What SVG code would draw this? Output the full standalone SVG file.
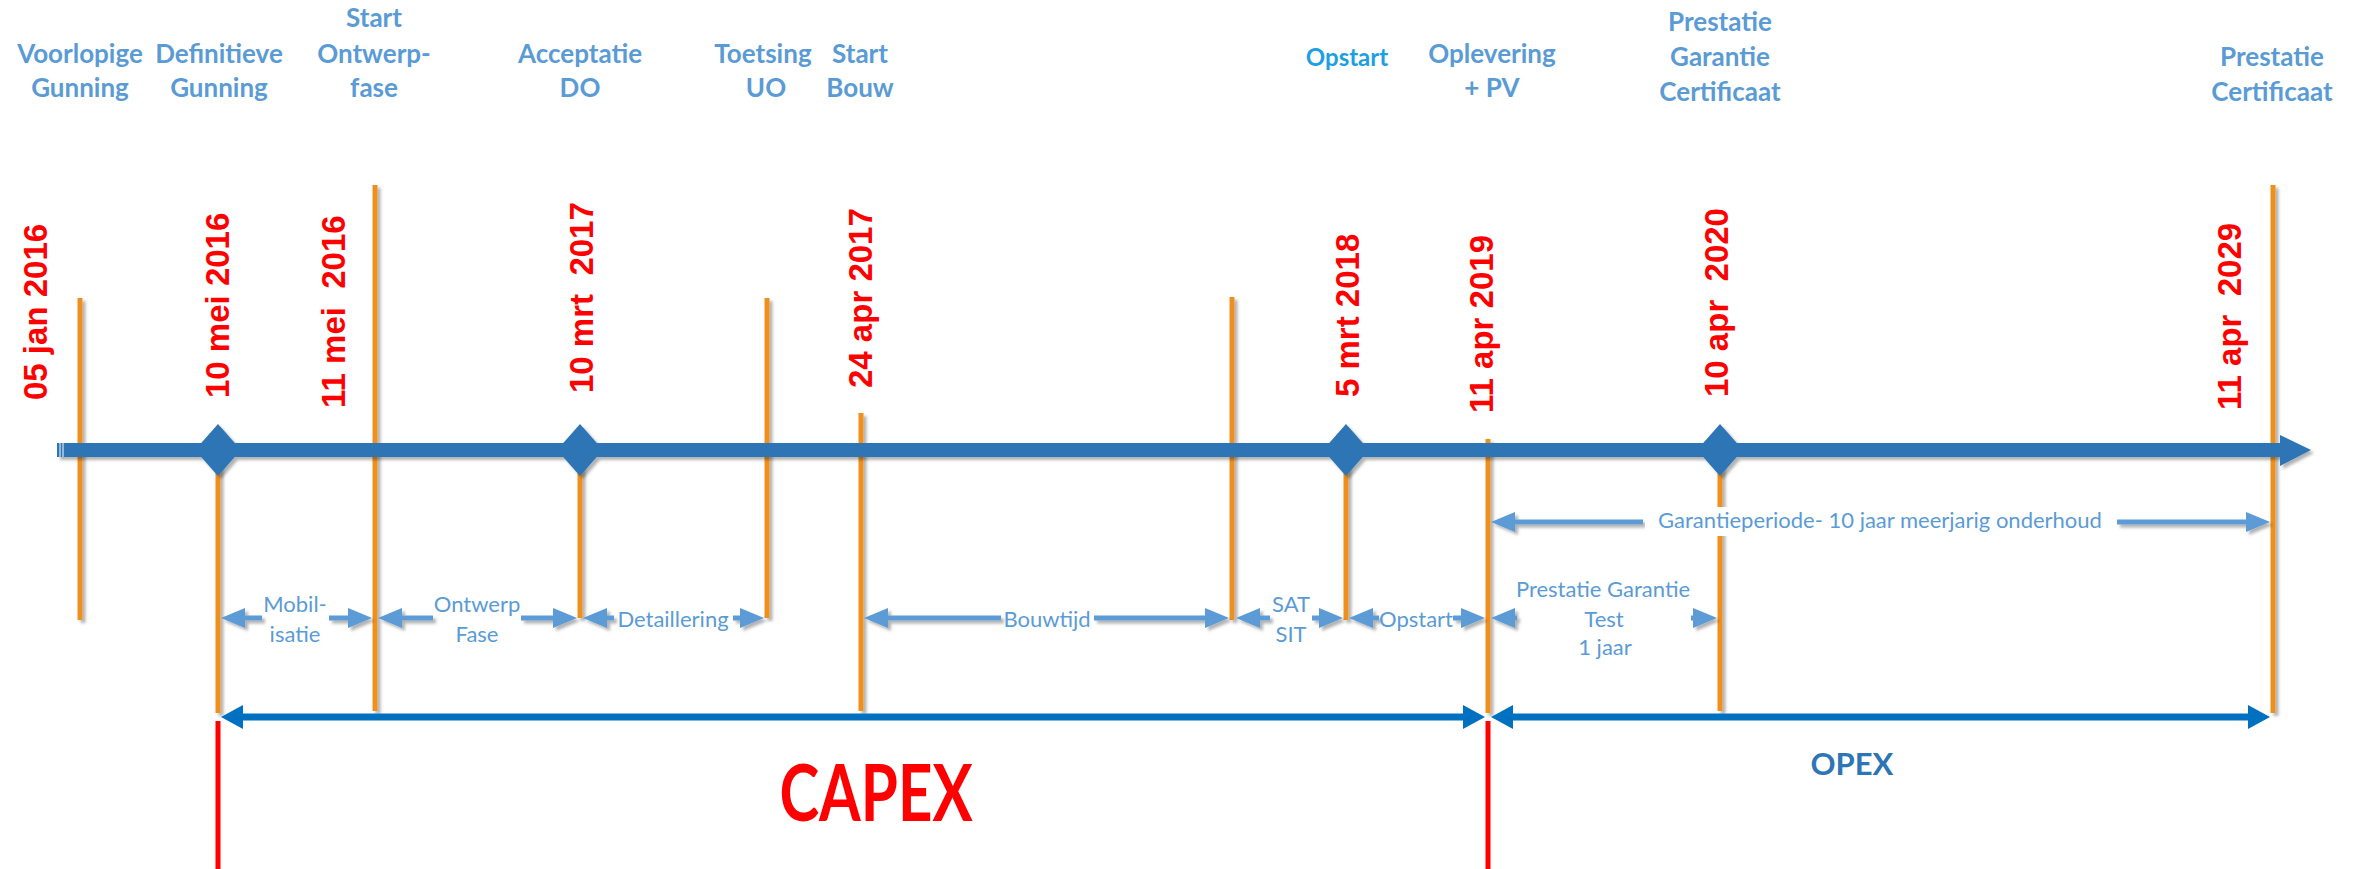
<svg xmlns="http://www.w3.org/2000/svg" width="2362" height="869" viewBox="0 0 2362 869">
<style>
.top{font-family:Lato,"Open Sans",sans-serif;font-weight:700;font-size:26px;fill:#5B9BD5;text-anchor:middle}
.top2{fill:#1E9FE3;font-size:24px}
.date{font-family:"Liberation Sans",Arial,sans-serif;font-weight:700;font-size:33px;fill:#FF0000;white-space:pre}
.tick{stroke:#F0901E;stroke-width:5;fill:none}
.red{stroke:#FF0000;stroke-width:5;fill:none}
.dimS{stroke:#5B9BD5;stroke-width:5;fill:none;marker-start:url(#ahl)}
.dimE{stroke:#5B9BD5;stroke-width:5;fill:none;marker-end:url(#ahl)}
.big{stroke:#0070C0;stroke-width:7;fill:none;marker-start:url(#ahd);marker-end:url(#ahd)}
.lbl{font-family:Lato,"Open Sans",sans-serif;font-size:22px;fill:#5B9BD5;text-anchor:middle}
.dia{fill:#2E75B6}
</style>
<defs>
<filter id="sh" filterUnits="userSpaceOnUse" x="0" y="0" width="2362" height="869">
<feDropShadow dx="3" dy="3" stdDeviation="1.5" flood-color="#000" flood-opacity="0.3"/>
</filter>
<marker id="ahl" markerUnits="userSpaceOnUse" viewBox="0 -10 24 20" refX="0" refY="0" markerWidth="24" markerHeight="20" orient="auto-start-reverse">
<path d="M0,-10 L24,0 L0,10 Z" fill="#5B9BD5"/>
</marker>
<marker id="ahd" markerUnits="userSpaceOnUse" viewBox="0 -12 22 24" refX="0" refY="0" markerWidth="22" markerHeight="24" orient="auto-start-reverse">
<path d="M0,-12 L22,0 L0,12 Z" fill="#0070C0"/>
</marker>
</defs>
<rect width="2362" height="869" fill="#FFFFFF"/>

<!-- tick lines -->
<g id="ticks" filter="url(#sh)">
<line class="tick" x1="80" y1="298" x2="80" y2="620"/>
<line class="tick" x1="218" y1="430" x2="218" y2="713"/>
<line class="tick" x1="375" y1="185" x2="375" y2="711"/>
<line class="tick" x1="580" y1="430" x2="580" y2="618"/>
<line class="tick" x1="767" y1="298" x2="767" y2="618"/>
<line class="tick" x1="861" y1="413" x2="861" y2="711"/>
<line class="tick" x1="1232" y1="297" x2="1232" y2="620"/>
<line class="tick" x1="1346" y1="430" x2="1346" y2="620"/>
<line class="tick" x1="1488" y1="439" x2="1488" y2="713"/>
<line class="tick" x1="1720" y1="430" x2="1720" y2="711"/>
<line class="tick" x1="2273" y1="185" x2="2273" y2="713"/>
</g>

<!-- main timeline -->
<g id="timeline" filter="url(#sh)">
<rect x="57" y="443" width="2225" height="14" fill="#2E75B6"/>
<polygon points="2280,435 2311,450 2280,466" fill="#2E75B6"/>
<line x1="60" y1="443" x2="60" y2="457" stroke="#FFFFFF" stroke-width="1"/>
<line x1="63" y1="443" x2="63" y2="457" stroke="#FFFFFF" stroke-width="1"/>
<polygon class="dia" points="218,424 241,450 218,476 195,450"/>
<polygon class="dia" points="580,424 603,450 580,476 557,450"/>
<polygon class="dia" points="1346,424 1369,450 1346,476 1323,450"/>
<polygon class="dia" points="1720,424 1743,450 1720,476 1697,450"/>
</g>

<!-- milestone nodes -->
<g id="ms-voorlopige-gunning">
<text class="top" x="80" y="63">Voorlopige</text>
<text class="top" x="80" y="97">Gunning</text>
<text class="date" transform="translate(47,400) rotate(-90)">05 jan 2016</text>
</g>
<g id="ms-definitieve-gunning">
<text class="top" x="219" y="63">Definitieve</text>
<text class="top" x="219" y="97">Gunning</text>
<text class="date" transform="translate(229,398) rotate(-90)">10 mei 2016</text>
</g>
<g id="ms-start-ontwerpfase">
<text class="top" x="374" y="27">Start</text>
<text class="top" x="374" y="63">Ontwerp-</text>
<text class="top" x="374" y="97">fase</text>
<text class="date" transform="translate(345,408) rotate(-90)">11 mei  2016</text>
</g>
<g id="ms-acceptatie-do">
<text class="top" x="580" y="63">Acceptatie</text>
<text class="top" x="580" y="97">DO</text>
<text class="date" transform="translate(593,393) rotate(-90)">10 mrt  2017</text>
</g>
<g id="ms-toetsing-uo">
<text class="top" x="763" y="63">Toetsing</text>
<text class="top" x="766" y="97">UO</text>
</g>
<g id="ms-start-bouw">
<text class="top" x="860" y="63">Start</text>
<text class="top" x="860" y="97">Bouw</text>
<text class="date" transform="translate(872,388) rotate(-90)">24 apr 2017</text>
</g>
<g id="ms-opstart">
<text class="top top2" x="1347" y="66">Opstart</text>
<text class="date" transform="translate(1359,397) rotate(-90)">5 mrt 2018</text>
</g>
<g id="ms-oplevering">
<text class="top" x="1492" y="63">Oplevering</text>
<text class="top" x="1492" y="97">+ PV</text>
<text class="date" transform="translate(1493,413) rotate(-90)">11 apr 2019</text>
</g>
<g id="ms-prestatie-garantie-certificaat">
<text class="top" x="1720" y="31">Prestatie</text>
<text class="top" x="1720" y="66">Garantie</text>
<text class="top" x="1720" y="101">Certificaat</text>
<text class="date" transform="translate(1728,397) rotate(-90)">10 apr  2020</text>
</g>
<g id="ms-prestatie-certificaat">
<text class="top" x="2272" y="66">Prestatie</text>
<text class="top" x="2272" y="101">Certificaat</text>
<text class="date" transform="translate(2241,410) rotate(-90)">11 apr  2029</text>
</g>

<!-- connectors -->
<g id="connectors">
<g filter="url(#sh)">
<path class="dimS" d="M245,618 H262"/>
<path class="dimE" d="M329,618 H348"/>
<path class="dimS" d="M402,618 H433"/>
<path class="dimE" d="M521,618 H553"/>
<path class="dimS" d="M607,618 H614"/>
<path class="dimE" d="M733,618 H740"/>
<path class="dimS" d="M888,618 H1001"/>
<path class="dimE" d="M1094,618 H1205"/>
<path class="dimS" d="M1260,618 H1270"/>
<path class="dimE" d="M1312,618 H1319"/>
<path class="dimS" d="M1373,618 H1379"/>
<path class="dimE" d="M1453,618 H1461"/>
<path class="dimS" d="M1515,618 H1517"/>
<path class="dimE" d="M1691,618 H1693"/>
<path class="dimS" d="M1515,522 H1643"/>
<path class="dimE" d="M2117,522 H2246"/>
</g>
<rect x="1645" y="507" width="470" height="29" fill="#FFFFFF"/>
<path class="big" d="M243,717 H1463"/>
<path class="big" d="M1513,717 H2248"/>
<line class="red" x1="218" y1="721" x2="218" y2="869"/>
<line class="red" x1="1488" y1="721" x2="1488" y2="869"/>
</g>

<!-- phase labels -->
<g id="phase-labels">
<text class="lbl" x="295" y="612">Mobil-</text>
<text class="lbl" x="295" y="642">isatie</text>
<text class="lbl" x="477" y="612">Ontwerp</text>
<text class="lbl" x="477" y="642">Fase</text>
<text class="lbl" x="673" y="627">Detaillering</text>
<text class="lbl" x="1047" y="627">Bouwtijd</text>
<text class="lbl" x="1291" y="612">SAT</text>
<text class="lbl" x="1291" y="642">SIT</text>
<text class="lbl" x="1416" y="627">Opstart</text>
<text class="lbl" x="1603" y="597">Prestatie Garantie</text>
<text class="lbl" x="1604" y="627">Test</text>
<text class="lbl" x="1605" y="655">1 jaar</text>
<text class="lbl" x="1880" y="528">Garantieperiode- 10 jaar meerjarig onderhoud</text>
</g>

<g id="capex">
<text transform="translate(876,821) scale(1,1.3)" x="0" y="0" style="font-family:Lato,'Open Sans',sans-serif;font-weight:700;font-size:60px;fill:#FF0000;text-anchor:middle">CAPEX</text>
</g>
<g id="opex">
<text x="1852" y="775" style="font-family:Lato,'Open Sans',sans-serif;font-weight:700;font-size:31px;fill:#2E75B6;text-anchor:middle">OPEX</text>
</g>
</svg>
